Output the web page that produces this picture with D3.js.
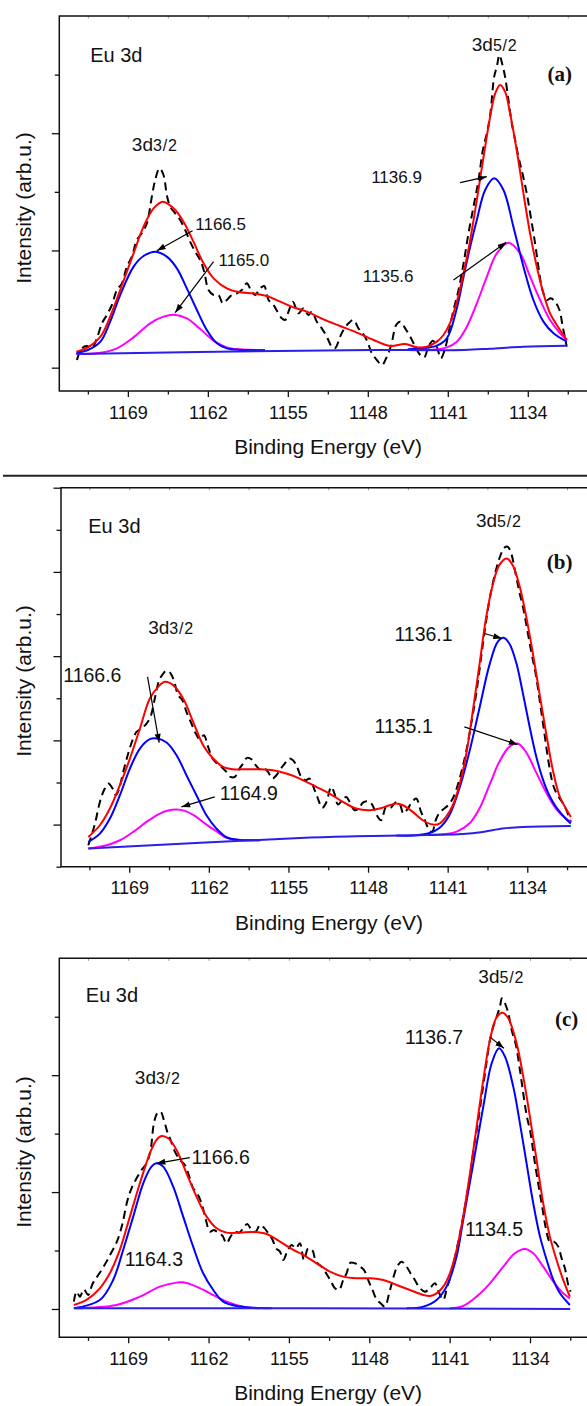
<!DOCTYPE html>
<html><head><meta charset="utf-8">
<script src="https://cdn.jsdelivr.net/npm/d3@7"></script>
<style>body{margin:0;background:#fff}svg{display:block}</style>
</head><body>
<svg id="chart" width="587" height="1406"></svg>
<script>
// ---------------- shared tick values ----------------
const xMajorTicks = [1169, 1162, 1155, 1148, 1141, 1134];
const xMinorTicks = [1172.5, 1165.5, 1158.5, 1151.5, 1144.5, 1137.5, 1130.5];
const xTitle = "Binding Energy (eV)";
const yTitle = "Intensity (arb.u.)";

// ---------------- panel (a) ----------------
const aRaw = [[1173.46,23],[1173.02,58],[1172.59,65],[1172.15,58],[1171.71,88],[1171.27,133],[1170.84,158],[1170.40,188],[1169.96,233],[1169.52,253],[1169.09,303],[1168.65,333],[1168.21,383],[1167.78,403],[1167.34,433],[1166.90,513],[1166.61,563],[1166.23,598],[1165.88,578],[1165.59,518],[1165.30,483],[1164.86,463],[1164.42,443],[1163.98,413],[1163.55,378],[1163.11,348],[1162.67,323],[1162.32,288],[1161.94,233],[1161.50,218],[1161.07,218],[1160.69,193],[1160.34,203],[1159.90,218],[1159.46,223],[1159.03,233],[1158.59,253],[1158.24,233],[1157.86,218],[1157.42,238],[1157.07,245],[1156.69,203],[1156.26,188],[1155.91,168],[1155.53,148],[1155.24,143],[1154.94,168],[1154.56,198],[1154.07,163],[1153.64,178],[1153.20,158],[1152.91,168],[1152.46,138],[1152.03,118],[1151.59,93],[1151.16,63],[1150.87,58],[1150.42,93],[1150.13,113],[1149.69,133],[1149.25,143],[1148.82,118],[1148.44,103],[1148.03,78],[1147.65,43],[1147.21,23],[1146.77,8],[1146.33,33],[1145.95,68],[1145.52,128],[1145.17,138],[1144.73,118],[1144.29,93],[1143.85,63],[1143.42,38],[1143.07,31],[1142.69,63],[1142.31,81],[1141.96,63],[1141.61,28],[1141.23,58],[1140.85,118],[1140.50,173],[1140.06,233],[1139.62,313],[1139.19,403],[1138.75,483],[1138.31,563],[1137.93,653],[1137.58,703],[1137.29,758],[1136.94,873],[1136.71,903],[1136.48,938],[1136.25,913],[1135.99,873],[1135.69,803],[1135.40,733],[1135.11,683],[1134.82,633],[1134.47,583],[1134.09,523],[1133.74,453],[1133.36,373],[1133.07,303],[1132.72,233],[1132.34,203],[1131.99,208],[1131.61,198],[1131.23,173],[1130.94,123],[1130.59,63]];
const aEnvelope = [[1173.5,48],[1172.5,61],[1171.4,93],[1170.55,153],[1169.67,233],[1168.5,343],[1167.63,423],[1166.75,478],[1165.94,498],[1165.0,478],[1164.13,438],[1163.26,378],[1162.38,313],[1161.5,268],[1160.34,238],[1159.17,226],[1158.0,223],[1156.84,215],[1155.67,198],[1154.5,181],[1153.34,168],[1151.88,145],[1150.42,125],[1148.96,105],[1147.5,83],[1146.04,65],[1144.73,71],[1143.71,61],[1142.83,63],[1141.96,78],[1141.38,98],[1140.79,135],[1140.21,198],[1139.62,283],[1139.04,383],[1138.46,503],[1137.87,633],[1137.29,753],[1136.85,823],[1136.42,848],[1135.99,828],[1135.55,763],[1134.97,653],[1134.38,523],[1133.8,403],[1133.21,303],[1132.63,223],[1132.05,163],[1131.46,128],[1130.58,83]];
const aMain32 = [[1173.5,45],[1172.5,53],[1171.4,78],[1170.55,138],[1169.67,218],[1168.5,303],[1167.63,335],[1166.55,348],[1165.59,333],[1164.71,298],[1163.84,238],[1162.96,173],[1162.09,113],[1161.21,73],[1160.34,58],[1159.17,53],[1157.0,52]];
const aSat32 = [[1173.5,41],[1171.4,45],[1169.96,58],[1168.5,91],[1167.05,133],[1165.88,153],[1165.0,159],[1163.84,148],[1162.67,116],[1161.5,81],[1160.34,61],[1159.17,55],[1157.0,52]];
const aMain52 = [[1144.5,55],[1143.13,58],[1141.96,66],[1141.08,88],[1140.21,178],[1139.62,273],[1139.04,363],[1138.46,443],[1137.73,533],[1136.94,568],[1136.13,533],[1135.26,423],[1134.38,303],[1133.51,203],[1132.63,138],[1131.75,103],[1130.58,78]];
const aSat52 = [[1144.5,53],[1142.54,53],[1141.08,61],[1140.21,78],[1139.33,123],[1138.46,193],[1137.58,273],[1136.71,343],[1135.69,375],[1134.67,343],[1133.8,273],[1132.92,203],[1132.05,143],[1131.17,103],[1130.58,83]];
const aBackground = [[1173.5,41],[1153.9,51],[1146.0,53],[1139.6,53],[1137.3,57],[1134.4,63],[1130.6,66]];
const aTitle = ["Eu 3d", 1172.3, 917];
const aTag = ["(a)", 1130.13, 860];
const aOrbitals = [[1168.65, 650, "3d", "3/2"], [1138.9, 950, "3d", "5/2"]];
const aNotes = [["1166.5", 1163.1, 413], ["1165.0", 1161.07, 305], ["1136.9", 1147.71, 555], ["1135.6", 1148.44, 258]];
const aArrows = [[1163.34,411,1166.46,351],[1161.5,318,1164.86,165],[1139.92,555,1137.58,573],[1140.5,263,1135.89,376]];

// ---------------- panel (b) ----------------
const bRaw = [[1172.60,-62],[1172.31,-32],[1172.01,3],[1171.58,68],[1171.22,103],[1170.84,123],[1170.46,108],[1170.17,88],[1169.88,108],[1169.53,158],[1169.09,213],[1168.71,253],[1168.36,278],[1167.92,288],[1167.48,303],[1167.13,323],[1166.75,378],[1166.37,433],[1166.07,450],[1165.78,461],[1165.43,456],[1165.08,433],[1164.70,388],[1164.32,373],[1163.97,338],[1163.53,303],[1163.15,273],[1162.80,256],[1162.44,268],[1162.06,233],[1161.68,198],[1161.27,183],[1160.89,173],[1160.45,158],[1160.10,143],[1159.72,143],[1159.34,166],[1158.99,183],[1158.64,200],[1158.26,196],[1157.88,178],[1157.53,166],[1157.18,170],[1156.80,158],[1156.42,138],[1156.06,148],[1155.71,166],[1155.33,183],[1154.95,198],[1154.60,193],[1154.25,173],[1153.87,143],[1153.49,133],[1153.14,138],[1152.70,103],[1152.41,78],[1152.03,50],[1151.68,66],[1151.24,113],[1150.95,93],[1150.65,60],[1150.27,73],[1149.92,83],[1149.48,58],[1149.19,43],[1148.81,48],[1148.46,66],[1148.02,70],[1147.64,60],[1147.23,28],[1146.85,13],[1146.41,53],[1146.03,50],[1145.59,66],[1145.24,63],[1144.89,33],[1144.60,43],[1144.22,63],[1143.77,78],[1143.34,38],[1143.04,16],[1142.66,-14],[1142.37,-22],[1142.02,16],[1141.67,38],[1141.29,48],[1140.91,60],[1140.55,78],[1140.21,108],[1139.83,153],[1139.38,218],[1138.95,298],[1138.51,388],[1138.07,498],[1137.63,608],[1137.19,698],[1136.75,763],[1136.40,803],[1136.02,830],[1135.73,833],[1135.44,816],[1135.06,758],[1134.70,698],[1134.35,648],[1133.97,578],[1133.59,508],[1133.24,448],[1132.89,368],[1132.51,278],[1132.13,188],[1131.72,118],[1131.34,88],[1130.90,66],[1130.55,43],[1130.17,8]];
const bEnvelope = [[1172.6,-37],[1171.58,-2],[1170.7,48],[1169.82,118],[1168.94,198],[1168.06,288],[1167.19,378],[1166.45,413],[1165.87,428],[1165.14,418],[1164.26,378],[1163.38,308],[1162.5,238],[1161.62,198],[1160.75,173],[1159.87,166],[1158.7,166],[1157.53,166],[1156.36,163],[1155.19,153],[1154.02,138],[1152.55,113],[1151.38,93],[1150.21,68],[1149.04,48],[1147.87,43],[1146.99,48],[1146.11,58],[1145.53,63],[1144.94,58],[1144.07,38],[1143.19,13],[1142.31,0],[1141.72,3],[1141.14,23],[1140.55,58],[1139.97,118],[1139.38,208],[1138.8,338],[1138.21,478],[1137.63,618],[1137.04,718],[1136.46,778],[1135.81,798],[1135.29,778],[1134.7,718],[1134.12,628],[1133.53,518],[1132.95,398],[1132.36,278],[1131.78,168],[1131.19,88],[1130.61,48],[1130.17,23]];
const bMain32 = [[1172.6,-52],[1171.58,-27],[1170.7,18],[1169.82,88],[1168.94,168],[1168.06,228],[1167.19,256],[1166.54,258],[1165.72,246],[1164.84,208],[1163.97,148],[1163.09,88],[1162.21,28],[1161.33,-12],[1160.45,-38],[1159.28,-46],[1157.5,-47]];
const bSat32 = [[1172.6,-72],[1170.99,-62],[1169.82,-47],[1168.65,-22],[1167.48,8],[1166.31,33],[1165.58,42],[1164.84,45],[1164.11,41],[1163.23,26],[1162.21,0],[1161.33,-20],[1160.45,-40],[1159.28,-46],[1157.5,-47]];
const bMain52 = [[1145.5,-33],[1143.77,-32],[1142.6,-25],[1141.72,-10],[1140.85,28],[1139.97,108],[1139.09,218],[1138.21,348],[1137.33,478],[1136.6,548],[1136.08,560],[1135.58,543],[1134.99,488],[1134.41,398],[1133.82,298],[1133.24,208],[1132.65,138],[1132.07,88],[1131.48,53],[1130.9,28],[1130.17,3]];
const bSat52 = [[1143.0,-30],[1141.72,-30],[1140.26,-22],[1139.09,3],[1138.21,48],[1137.33,118],[1136.46,188],[1135.58,233],[1134.85,243],[1134.12,218],[1133.24,158],[1132.36,98],[1131.48,48],[1130.61,18],[1130.17,8]];
const bBackground = [[1172.6,-72],[1154.0,-40],[1149.04,-35],[1142.6,-31],[1139.68,-28],[1137.92,-22],[1136.17,-12],[1134.41,-7],[1130.17,-4]];
const bTitle = ["Eu 3d", 1172.6, 875];
const bTag = ["(b)", 1130.02, 766];
const bOrbitals = [[1167.33, 570, "3d", "3/2"], [1138.51, 893, "3d", "5/2"]];
const bNotes = [["1166.6", 1174.8, 426], ["1164.9", 1161.04, 75], ["1136.1", 1145.68, 550], ["1135.1", 1147.43, 276]];
const bArrows = [[1167.39,443,1166.37,246],[1161.48,83,1164.41,53],[1137.77,573,1136.22,558],[1139.53,293,1134.85,240]];

// ---------------- panel (c) ----------------
const cRaw = [[1173.73,22],[1173.50,52],[1173.21,37],[1172.86,59],[1172.49,42],[1172.11,75],[1171.70,97],[1171.32,117],[1170.89,142],[1170.54,165],[1170.16,189],[1169.87,212],[1169.49,257],[1169.09,322],[1168.71,362],[1168.27,392],[1167.84,417],[1167.40,437],[1167.05,477],[1166.76,557],[1166.47,587],[1166.18,592],[1165.89,567],[1165.60,532],[1165.31,507],[1164.93,472],[1164.50,447],[1164.06,432],[1163.68,397],[1163.34,362],[1162.99,347],[1162.61,317],[1162.23,267],[1161.88,232],[1161.54,237],[1161.16,229],[1160.78,219],[1160.43,197],[1160.08,217],[1159.71,232],[1159.33,229],[1158.98,242],[1158.63,255],[1158.25,237],[1157.88,232],[1157.53,252],[1157.18,244],[1156.80,227],[1156.42,207],[1156.13,182],[1155.78,172],[1155.49,147],[1155.15,172],[1154.77,192],[1154.39,182],[1154.04,197],[1153.69,147],[1153.32,182],[1152.94,175],[1152.65,142],[1152.15,127],[1151.72,105],[1151.37,85],[1150.99,62],[1150.64,57],[1150.27,87],[1149.98,107],[1149.63,139],[1149.25,137],[1148.88,129],[1148.47,117],[1148.10,87],[1147.72,57],[1147.37,29],[1147.02,17],[1146.64,7],[1146.27,47],[1145.92,92],[1145.57,127],[1145.19,142],[1144.75,127],[1144.41,107],[1144.03,87],[1143.65,65],[1143.16,52],[1142.72,62],[1142.28,77],[1141.91,47],[1141.56,27],[1141.21,67],[1140.83,107],[1140.46,167],[1140.04,237],[1139.67,307],[1139.23,397],[1138.88,487],[1138.59,547],[1138.21,637],[1137.84,727],[1137.49,807],[1137.20,847],[1136.85,882],[1136.62,907],[1136.45,932],[1136.18,917],[1135.89,887],[1135.60,837],[1135.23,792],[1134.88,717],[1134.59,647],[1134.30,582],[1133.95,527],[1133.66,457],[1133.29,377],[1132.94,307],[1132.62,242],[1132.27,202],[1131.92,202],[1131.54,187],[1131.25,152],[1130.96,122],[1130.67,72],[1130.47,52]];
const cEnvelope = [[1173.73,12],[1172.63,27],[1171.47,62],[1170.6,107],[1169.73,177],[1168.85,277],[1167.98,377],[1167.11,467],[1166.53,507],[1166.1,519],[1165.51,512],[1164.79,477],[1163.92,407],[1163.05,337],[1162.17,277],[1161.3,242],[1160.43,229],[1159.27,229],[1158.11,231],[1156.95,225],[1155.78,202],[1154.62,177],[1153.75,162],[1152.59,137],[1151.43,112],[1150.27,97],[1149.1,92],[1147.94,92],[1146.78,87],[1145.62,72],[1144.46,57],[1143.3,42],[1142.72,39],[1142.14,47],[1141.56,67],[1140.98,107],[1140.4,177],[1139.82,277],[1139.23,407],[1138.65,547],[1138.07,687],[1137.49,807],[1136.91,875],[1136.39,889],[1135.89,872],[1135.17,797],[1134.59,697],[1134.01,577],[1133.43,447],[1132.85,317],[1132.27,217],[1131.69,147],[1131.11,87],[1130.53,37]];
const cMain32 = [[1173.73,2],[1171.47,27],[1170.31,87],[1169.44,177],[1168.56,277],[1167.69,377],[1166.97,427],[1166.53,437],[1165.95,427],[1165.08,367],[1164.21,277],[1163.34,187],[1162.47,107],[1161.59,57],[1160.72,22],[1159.56,9],[1158.11,4],[1156.5,2]];
const cSat32 = [[1173.73,2],[1170.02,12],[1167.98,37],[1166.24,67],[1164.79,79],[1164.21,80],[1163.05,67],[1161.88,47],[1160.43,22],[1158.98,7],[1157.53,2]];
const cMain52 = [[1144.75,2],[1143.3,7],[1142.14,27],[1141.27,67],[1140.4,157],[1139.82,267],[1138.94,437],[1138.07,607],[1137.34,737],[1136.7,782],[1136.18,757],[1135.46,667],[1134.88,557],[1134.3,437],[1133.72,317],[1133.13,217],[1132.55,147],[1131.97,87],[1131.39,47],[1130.53,12]];
const cSat52 = [[1140.98,2],[1139.82,9],[1138.65,37],[1137.49,77],[1136.33,127],[1135.32,167],[1134.45,180],[1133.72,167],[1132.85,127],[1131.97,82],[1131.11,47],[1130.53,32]];
const cBackground = [[1173.73,2],[1154.0,2],[1130.5,0]];
const cTitle = ["Eu 3d", 1172.69, 922];
const cTag = ["(c)", 1129.79, 849];
const cOrbitals = [[1168.42, 674, "3d", "3/2"], [1138.5, 979, "3d", "5/2"]];
const cNotes = [["1166.6", 1163.48, 434], ["1164.3", 1169.29, 129], ["1136.7", 1144.89, 794], ["1134.5", 1139.67, 219]];
const cArrows = [[1163.63,454,1166.53,437],[1137.43,814,1136.27,782]];

// ---------------- layout (positions / styles only) ----------------
const panels = [
  {left:59.3, right:588, top:16, bottom:391, xDomain:[1175,1128.73], yDomain:[-70,1055], yMajor:351.67, noteSize:17, yTitleY:208,
   raw:aRaw, env:aEnvelope, main:[aMain32,aMain52], sat:[aSat32,aSat52], bg:aBackground, title:aTitle, tag:aTag, orb:aOrbitals, notes:aNotes, arrows:aArrows},
  {left:61, right:588, top:487.7, bottom:866.7, xDomain:[1175,1128.66], yDomain:[-126.25,1010], yMajor:252.5, noteSize:19.5, yTitleY:681,
   raw:bRaw, env:bEnvelope, main:[bMain32,bMain52], sat:[bSat32,bSat52], bg:bBackground, title:bTitle, tag:bTag, orb:bOrbitals, notes:bNotes, arrows:bArrows},
  {left:59.3, right:588, top:958.3, bottom:1337.3, xDomain:[1175,1128.95], yDomain:[-85,1052], yMajor:350.67, noteSize:19.5, yTitleY:1152,
   raw:cRaw, env:cEnvelope, main:[cMain32,cMain52], sat:[cSat32,cSat52], bg:cBackground, title:cTitle, tag:cTag, orb:cOrbitals, notes:cNotes, arrows:cArrows}
];

const FONT = '"Liberation Sans", Arial, Helvetica, sans-serif';
const svg = d3.select('#chart');

svg.append('defs').append('marker')
  .attr('id','arrowhead').attr('viewBox','0 -4 10 8').attr('refX',10).attr('refY',0)
  .attr('markerUnits','userSpaceOnUse').attr('markerWidth',9).attr('markerHeight',7).attr('orient','auto')
  .append('path').attr('d','M0,-3.5L10,0L0,3.5Z').attr('fill','#000');

// separator between (a) and (b)
svg.append('line').attr('x1',3).attr('x2',587).attr('y1',475.7).attr('y2',475.7)
  .attr('stroke','#222').attr('stroke-width',2);

panels.forEach(p => {
  const x = d3.scaleLinear().domain(p.xDomain).range([p.left, p.right]);
  const y = d3.scaleLinear().domain(p.yDomain).range([p.bottom, p.top]);
  const g = svg.append('g');

  const yMaj = [], yMin = [];
  for (let k = Math.ceil(p.yDomain[0]/(p.yMajor/2) - 1e-6); k*p.yMajor/2 <= p.yDomain[1] + 1e-3; k++) {
    const v = k*p.yMajor/2;
    (k % 2 === 0 ? yMaj : yMin).push(v);
  }
  const styleAxis = sel => { sel.select('.domain').remove(); sel.selectAll('line').attr('stroke','#111').attr('stroke-width',1.3); };

  g.append('g').attr('transform',`translate(${p.left},0)`)
    .call(d3.axisLeft(y).tickValues(yMaj).tickSize(7.5).tickFormat('')).call(styleAxis);
  g.append('g').attr('transform',`translate(${p.left},0)`)
    .call(d3.axisLeft(y).tickValues(yMin).tickSize(4.5).tickFormat('')).call(styleAxis);

  const bx = g.append('g').attr('transform',`translate(0,${p.bottom})`)
    .call(d3.axisBottom(x).tickValues(xMajorTicks).tickSize(6).tickPadding(9).tickFormat(d3.format('d')))
    .call(styleAxis);
  bx.selectAll('text').attr('font-family',FONT).attr('font-size','18px').attr('fill','#111');
  g.append('g').attr('transform',`translate(0,${p.bottom})`)
    .call(d3.axisBottom(x).tickValues(xMinorTicks).tickSize(3.5).tickFormat('')).call(styleAxis);

  g.append('g').attr('transform',`translate(0,${p.top})`)
    .call(d3.axisTop(x).tickValues(xMajorTicks.concat(xMinorTicks)).tickSize(-2.5).tickFormat(''))
    .call(sel => { sel.select('.domain').remove(); sel.selectAll('line').attr('stroke','#999').attr('stroke-width',1); });

  g.append('path').attr('d',`M${p.right},${p.top}H${p.left}V${p.bottom}H${p.right}`)
    .attr('fill','none').attr('stroke','#111').attr('stroke-width',1.5);

  g.append('text').attr('x',(p.left+597)/2).attr('y',p.bottom+63).attr('text-anchor','middle')
    .attr('font-family',FONT).attr('font-size','21px').attr('fill','#111').text(xTitle);
  g.append('text').attr('transform',`translate(31,${p.yTitleY}) rotate(-90)`).attr('text-anchor','middle')
    .attr('font-family',FONT).attr('font-size','21px').attr('fill','#111').text(yTitle);

  const line = d3.line().x(d => x(d[0])).y(d => y(d[1])).curve(d3.curveCatmullRom.alpha(0.5));
  g.append('path').datum(p.raw).attr('d',line).attr('fill','none').attr('stroke','#000')
    .attr('stroke-width',2).attr('stroke-dasharray','8,5');
  p.sat.forEach(s => g.append('path').datum(s).attr('d',line).attr('fill','none').attr('stroke','#ff00ff').attr('stroke-width',2));
  p.main.forEach(s => g.append('path').datum(s).attr('d',line).attr('fill','none').attr('stroke','#0000ff').attr('stroke-width',2));
  g.append('path').datum(p.bg).attr('d',line).attr('fill','none').attr('stroke','#2a1fe6').attr('stroke-width',2);
  g.append('path').datum(p.env).attr('d',line).attr('fill','none').attr('stroke','#ff0000').attr('stroke-width',2);

  g.append('text').attr('x',x(p.title[1])).attr('y',y(p.title[2]))
    .attr('font-family',FONT).attr('font-size','20px').attr('fill','#111').text(p.title[0]);
  g.append('text').attr('x',x(p.tag[1])).attr('y',y(p.tag[2])).attr('text-anchor','end')
    .attr('font-family','"Liberation Serif","Times New Roman",serif').attr('font-weight','bold')
    .attr('font-size','21px').attr('fill','#111').text(p.tag[0]);
  p.orb.forEach(o => {
    const t = g.append('text').attr('x',x(o[0])).attr('y',y(o[1])).attr('font-family',FONT).attr('fill','#111');
    t.append('tspan').attr('font-size','19px').text(o[2]);
    t.append('tspan').attr('font-size','16px').attr('letter-spacing','0.8px').text(o[3]);
  });
  p.notes.forEach(n => g.append('text').attr('x',x(n[1])).attr('y',y(n[2]))
    .attr('font-family',FONT).attr('font-size',p.noteSize+'px').attr('fill','#111').text(n[0]));
  p.arrows.forEach(a => g.append('line')
    .attr('x1',x(a[0])).attr('y1',y(a[1])).attr('x2',x(a[2])).attr('y2',y(a[3]))
    .attr('stroke','#000').attr('stroke-width',1.2).attr('marker-end','url(#arrowhead)'));
});
</script>
</body></html>
